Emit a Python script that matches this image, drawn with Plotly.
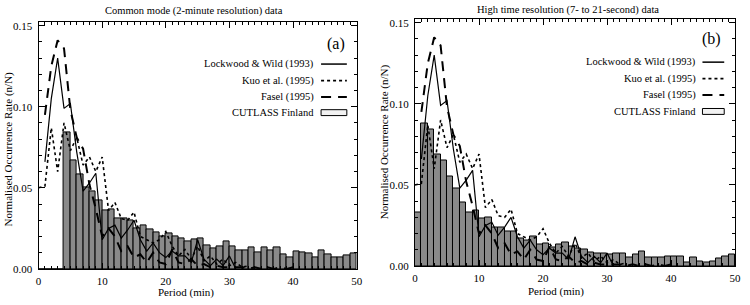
import plotly.graph_objects as go

# ---------------- data ----------------
period_bins = list(range(50))  # bin k spans [k, k+1] minutes

cutlass_common = [0, 0, 0, 0, 0.084, 0.067, 0.058, 0.050, 0.048, 0.042,
                  0.036, 0.037, 0.031, 0.031, 0.030, 0.025, 0.027, 0.0245, 0.0225, 0.020,
                  0.022, 0.020, 0.0187, 0.0167, 0.018, 0.0187, 0.0148, 0.0128, 0.0138, 0.017,
                  0.0138, 0.0112, 0.0112, 0.0134, 0.0102, 0.013, 0.0116, 0.013, 0.009, 0.007,
                  0.0106, 0.0102, 0.0098, 0.0074, 0.0114, 0.009, 0.0072, 0.007, 0.0086, 0.0096]

cutlass_hires = [0.033, 0.088, 0.084, 0.069, 0.065, 0.055, 0.048, 0.039, 0.033, 0.034,
                 0.029, 0.030, 0.024, 0.024, 0.021, 0.021, 0.017, 0.016, 0.018, 0.013,
                 0.014, 0.0115, 0.013, 0.0145, 0.012, 0.011, 0.010, 0.0084, 0.0076, 0.0076,
                 0.007, 0.0076, 0.008, 0.005, 0.007, 0.0088, 0.005, 0.0054, 0.0054, 0.0056,
                 0.006, 0.006, 0.0024, 0.0054, 0.0026, 0.002, 0.003, 0.0046, 0.006, 0.0074]

lw_period = list(range(1, 32))
lockwood_wild = [0.066, 0.105, 0.130, 0.099, 0.102, 0.072, 0.048, 0.053, 0.059, 0.018,
                 0.025, 0.027, 0.019, 0.024, 0.030, 0.018, 0.011, 0.016, 0.010, 0.007,
                 0.011, 0.008, 0.008, 0.004, 0.018, 0.006, 0.002, 0.006, 0.002, 0.008,
                 0.0]

kuo_period = list(range(0, 34))
kuo = [0.050, 0.051, 0.087, 0.060, 0.090, 0.073, 0.081, 0.064, 0.069, 0.060,
       0.069, 0.036, 0.041, 0.031, 0.030, 0.035, 0.020, 0.018, 0.016, 0.018,
       0.023, 0.014, 0.008, 0.012, 0.006, 0.014, 0.005, 0.008, 0.003, 0.006,
       0.002, 0.004, 0.001, 0.002]

fasel_period = list(range(1, 41))
fasel = [0.095, 0.125, 0.141, 0.136, 0.098, 0.081, 0.074, 0.052, 0.037, 0.020,
         0.025, 0.020, 0.011, 0.014, 0.007, 0.009, 0.004, 0.010, 0.004, 0.003,
         0.012, 0.004, 0.003, 0.006, 0.002, 0.003, 0.001, 0.002, 0.001, 0.001,
         0.001, 0.001, 0.0, 0.001, 0.0, 0.001, 0.0, 0.001, 0.0, 0.001]

x_ticks = [0, 10, 20, 30, 40, 50]
y_ticks = [0.00, 0.05, 0.10, 0.15]
y_tick_labels = ["0.00", "0.05", "0.10", "0.15"]

panel_titles = ["Common mode (2-minute resolution) data",
                "High time resolution (7- to 21-second) data"]
panel_labels = ["(a)", "(b)"]
legend_names = ["Lockwood & Wild (1993)", "Kuo et al. (1995)", "Fasel (1995)", "CUTLASS Finland"]

FONT = "Liberation Serif"
BAR_FILL = "#8a8a8a"

fig = go.Figure()

panels = [
    dict(hist=cutlass_common, xa="x", ya="y"),
    dict(hist=cutlass_hires, xa="x2", ya="y2"),
]

for p in panels:
    fig.add_trace(go.Bar(
        x=[k + 0.5 for k in period_bins], y=p["hist"], width=1,
        marker=dict(color=BAR_FILL, line=dict(color="black", width=1)),
        xaxis=p["xa"], yaxis=p["ya"], showlegend=False, hoverinfo="skip"))
    fig.add_trace(go.Scatter(
        x=kuo_period, y=kuo, mode="lines",
        line=dict(color="black", width=1.6, dash="dot"),
        xaxis=p["xa"], yaxis=p["ya"], showlegend=False))
    fig.add_trace(go.Scatter(
        x=fasel_period, y=fasel, mode="lines",
        line=dict(color="black", width=2, dash="10px,7px"),
        xaxis=p["xa"], yaxis=p["ya"], showlegend=False))
    fig.add_trace(go.Scatter(
        x=lw_period, y=lockwood_wild, mode="lines",
        line=dict(color="black", width=1.2),
        xaxis=p["xa"], yaxis=p["ya"], showlegend=False))

axis_common = dict(
    showline=True, linecolor="black", linewidth=1, mirror="allticks",
    ticks="inside", ticklen=6, tickcolor="black", tickwidth=1,
    showgrid=False, zeroline=False,
    tickfont=dict(family=FONT, size=11, color="black"),
)

xaxis_common = dict(axis_common, range=[0, 50], tickvals=x_ticks, ticklabelstandoff=2,
                    minor=dict(dtick=1, ticks="inside", ticklen=3, tickcolor="black", showgrid=False))
yaxis_common = dict(axis_common, range=[0, 0.152], tickvals=y_ticks, ticktext=y_tick_labels,
                    ticklabelstandoff=3,
                    minor=dict(dtick=0.01, ticks="inside", ticklen=3, tickcolor="black", showgrid=False))

fig.update_layout(
    width=750, height=305,
    margin=dict(l=0, r=0, t=0, b=0),
    paper_bgcolor="white", plot_bgcolor="white",
    bargap=0,
    xaxis=dict(xaxis_common, domain=[36 / 750, 358 / 750], anchor="y"),
    yaxis=dict(yaxis_common, domain=[1 - 274 / 305, 1 - 20 / 305], anchor="x"),
    xaxis2=dict(xaxis_common, domain=[417 / 750, 741 / 750], anchor="y2"),
    yaxis2=dict(yaxis_common, domain=[1 - 271 / 305, 1 - 17 / 305], anchor="x2"),
    font=dict(family=FONT, color="black"),
)

ann = []
shapes = []

# titles, axis titles
title_pos = [(193, 8), (572, 7)]
ytitle_pos = [(6, 150), (386, 143)]
xtitle_pos = [(185, 298), (560, 297)]
for i in range(2):
    ann.append(dict(text=panel_titles[i], x=title_pos[i][0] / 750, y=1 - title_pos[i][1] / 305,
                    xref="paper", yref="paper", showarrow=False, xanchor="center", yanchor="middle",
                    font=dict(family=FONT, size=10.5)))
    ann.append(dict(text="Normalised Occurrence Rate (n/N)", x=ytitle_pos[i][0] / 750,
                    y=1 - ytitle_pos[i][1] / 305, xref="paper", yref="paper", showarrow=False,
                    textangle=-90, xanchor="center", yanchor="middle", font=dict(family=FONT, size=11)))
    ann.append(dict(text="Period (min)", x=xtitle_pos[i][0] / 750, y=1 - xtitle_pos[i][1] / 305,
                    xref="paper", yref="paper", showarrow=False, xanchor="center", yanchor="middle",
                    font=dict(family=FONT, size=11)))

# legends and panel labels
leg_cfg = [
    dict(xref="x domain", yref="y domain", tx=0.873, sx0=0.888, sx1=0.969,
         ys=[0.831, 0.764, 0.697, 0.634], lab=(0.935, 0.913)),
    dict(xref="x2 domain", yref="y2 domain", tx=0.883, sx0=0.898, sx1=0.966,
         ys=[0.827, 0.760, 0.694, 0.627], lab=(0.926, 0.921)),
]
styles = [dict(dash="solid", width=1.5), dict(dash="dot", width=1.6), dict(dash="10px,7px", width=2)]
for i, c in enumerate(leg_cfg):
    ann.append(dict(text=panel_labels[i], x=c["lab"][0], y=c["lab"][1], xref=c["xref"], yref=c["yref"],
                    showarrow=False, xanchor="center", yanchor="middle", font=dict(family=FONT, size=16)))
    for j, name in enumerate(legend_names):
        ann.append(dict(text=name, x=c["tx"], y=c["ys"][j], xref=c["xref"], yref=c["yref"],
                        showarrow=False, xanchor="right", yanchor="middle",
                        font=dict(family=FONT, size=10.5)))
        if j < 3:
            shapes.append(dict(type="line", xref=c["xref"], yref=c["yref"],
                               x0=c["sx0"], x1=c["sx1"], y0=c["ys"][j], y1=c["ys"][j],
                               line=dict(color="black", **styles[j])))
        else:
            shapes.append(dict(type="rect", xref=c["xref"], yref=c["yref"],
                               x0=c["sx0"], x1=c["sx1"], y0=c["ys"][j] - 0.012, y1=c["ys"][j] + 0.012,
                               fillcolor="#f2f2f2", line=dict(color="black", width=1)))

fig.update_layout(annotations=ann, shapes=shapes)

fig.write_html("out.html")
